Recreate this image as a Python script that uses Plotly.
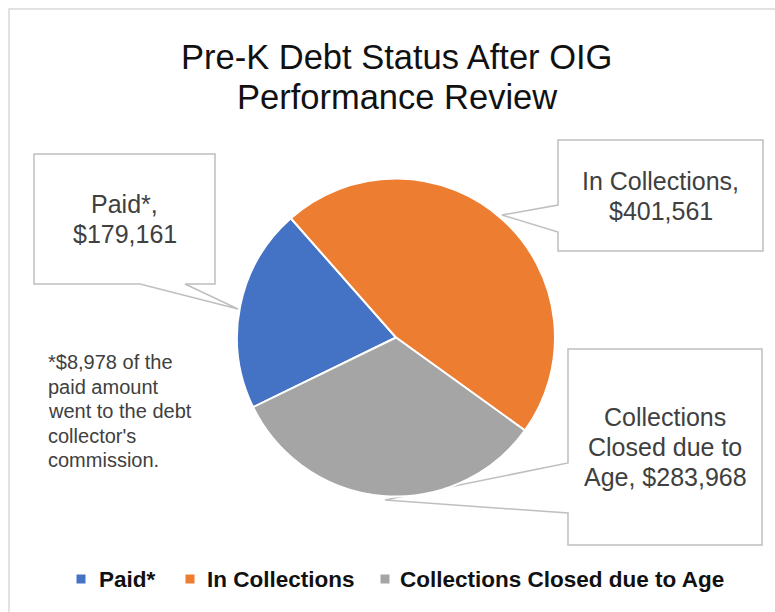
import textwrap
import plotly.graph_objects as go

# ---------------- data ----------------
CATEGORIES = ["Paid*", "In Collections", "Collections Closed due to Age"]
VALUES = [179161, 401561, 283968]
COLORS = ["#4472C4", "#ED7D31", "#A5A5A5"]
TITLE_LINES = ["Pre-K Debt Status After OIG", "Performance Review"]
FOOTNOTE_LINES = ["*$8,978 of the", "paid amount", "went to the debt",
                  "collector's", "commission."]

# ---------------- layout / style ----------------
W, H = 775, 612
CX, CY, R = 396, 337.5, 159          # pie centre / radius (px)
ROTATION = 244

SANS = "Liberation Sans, Arial, sans-serif"
LABEL_COLOR = "#404040"
BOX_LINE = "#BFBFBF"

# callout geometry: box (x0, y0, x1, y1), pointer side, base points, tip; wrap width
CALLOUTS = [
    dict(box=(34, 154, 215, 284), side="bottom", base=(140, 185), tip=(238, 309), wrap=8),
    dict(box=(558, 140, 763, 251), side="left", base=(205, 232), tip=(502, 215), wrap=15),
    dict(box=(568, 349, 762, 545), side="left", base=(463, 513), tip=(385, 500), wrap=13),
]
LEGEND_MARK_X = [81, 190, 385]
LEGEND_TEXT_X = [97, 205, 398]
LEGEND_Y = 579


def px(x):
    return x / W


def py(y):
    return 1 - y / H


def pt(x, y):
    return f"{px(x):.5f},{py(y):.5f}"


fig = go.Figure(
    go.Pie(
        labels=CATEGORIES,
        values=VALUES,
        marker=dict(colors=COLORS, line=dict(color="white", width=2)),
        sort=False,
        direction="clockwise",
        rotation=ROTATION,
        textinfo="none",
        hoverinfo="label+value",
        showlegend=False,
        domain=dict(x=[px(CX - R), px(CX + R)], y=[py(CY + R), py(CY - R)]),
    )
)

shapes = []
annotations = []

# outer chart frame
shapes.append(dict(type="rect", xref="paper", yref="paper",
                   x0=px(9), y0=py(9), x1=px(W + 5), y1=py(H + 5),
                   line=dict(color="#D9D9D9", width=1.5), layer="below"))

# title
for i, line in enumerate(TITLE_LINES):
    annotations.append(dict(text=line, x=px(397), y=py(57 + 40 * i), xref="paper", yref="paper",
                            xanchor="center", yanchor="middle", showarrow=False,
                            font=dict(family=SANS, size=34.5, color="#111111")))

# callouts
for cat, val, co in zip(CATEGORIES, VALUES, CALLOUTS):
    x0, y0, x1, y1 = co["box"]
    b0, b1 = co["base"]
    tx, ty = co["tip"]
    if co["side"] == "bottom":
        pts = [(x0, y0), (x1, y0), (x1, y1), (b1, y1), (tx, ty), (b0, y1), (x0, y1)]
    else:
        pts = [(x0, y0), (x1, y0), (x1, y1), (x0, y1), (x0, b1), (tx, ty), (x0, b0)]
    path = "M " + " L ".join(pt(a, b) for a, b in pts) + " Z"
    shapes.append(dict(type="path", path=path, xref="paper", yref="paper",
                       line=dict(color=BOX_LINE, width=1.5), fillcolor="white", layer="below"))
    lines = textwrap.wrap(f"{cat}, ${val:,}", co["wrap"])
    cxb, cyb = (x0 + x1) / 2, (y0 + y1) / 2
    sp = 30
    start = cyb - sp * (len(lines) - 1) / 2
    for j, ln in enumerate(lines):
        annotations.append(dict(text=ln, x=px(cxb), y=py(start + sp * j), xref="paper", yref="paper",
                                xanchor="center", yanchor="middle", showarrow=False,
                                font=dict(family=SANS, size=25, color=LABEL_COLOR)))

# footnote
for i, ln in enumerate(FOOTNOTE_LINES):
    annotations.append(dict(text=ln, x=px(46), y=py(362 + 24.5 * i), xref="paper", yref="paper",
                            xanchor="left", yanchor="middle", showarrow=False,
                            font=dict(family=SANS, size=20, color=LABEL_COLOR)))

# legend (built from categories / colours)
for cat, col, mx, tx in zip(CATEGORIES, COLORS, LEGEND_MARK_X, LEGEND_TEXT_X):
    shapes.append(dict(type="rect", xref="paper", yref="paper",
                       x0=px(mx - 4.5), x1=px(mx + 4.5), y0=py(LEGEND_Y + 4.5), y1=py(LEGEND_Y - 4.5),
                       fillcolor=col, line=dict(width=0)))
    annotations.append(dict(text=cat, x=px(tx), y=py(LEGEND_Y), xref="paper", yref="paper",
                            xanchor="left", yanchor="middle", showarrow=False,
                            font=dict(family=SANS, size=22.5, color="#111111", weight="bold")))

fig.update_layout(
    width=W, height=H,
    margin=dict(l=0, r=0, t=0, b=0),
    paper_bgcolor="white",
    plot_bgcolor="white",
    shapes=shapes,
    annotations=annotations,
    showlegend=False,
)

fig.write_html("out.html", config={"displayModeBar": False},
               post_script="document.body.style.margin='0px';")
